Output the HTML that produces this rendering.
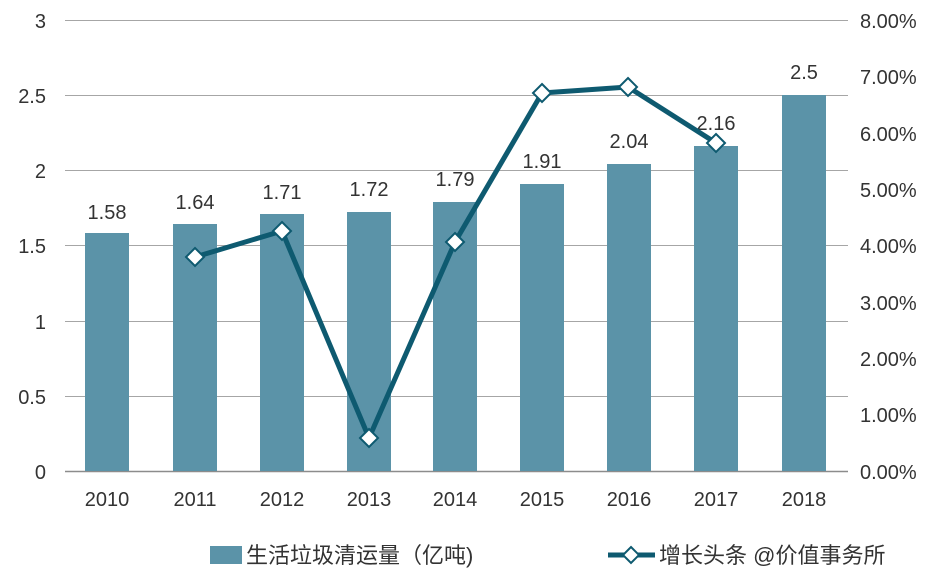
<!DOCTYPE html>
<html><head><meta charset="utf-8"><style>
body{margin:0;background:#fff;}
svg{display:block;font-family:"Liberation Sans","Noto Sans CJK SC",sans-serif;}
</style></head><body>
<svg width="942" height="582" viewBox="0 0 942 582">
<g stroke="#a6a6a6" stroke-width="1">
<line x1="65" y1="20.5" x2="848" y2="20.5"/>
<line x1="65" y1="95.5" x2="848" y2="95.5"/>
<line x1="65" y1="170.5" x2="848" y2="170.5"/>
<line x1="65" y1="245.5" x2="848" y2="245.5"/>
<line x1="65" y1="321.5" x2="848" y2="321.5"/>
<line x1="65" y1="396.5" x2="848" y2="396.5"/>
</g>
<line x1="65" y1="471.5" x2="848" y2="471.5" stroke="#8c8c8c" stroke-width="1.5"/>
<g fill="#5b93a8">
<rect x="85" y="233" width="44" height="238"/>
<rect x="173" y="224" width="44" height="247"/>
<rect x="260" y="214" width="44" height="257"/>
<rect x="347" y="212" width="44" height="259"/>
<rect x="433" y="202" width="44" height="269"/>
<rect x="520" y="184" width="44" height="287"/>
<rect x="607" y="164" width="44" height="307"/>
<rect x="694" y="146" width="44" height="325"/>
<rect x="782" y="95" width="44" height="376"/>
</g>
<g font-size="20" fill="#333" text-anchor="middle">
<text x="107" y="219">1.58</text>
<text x="195" y="209">1.64</text>
<text x="282" y="199">1.71</text>
<text x="369" y="196">1.72</text>
<text x="455" y="186">1.79</text>
<text x="542" y="168">1.91</text>
<text x="629" y="148">2.04</text>
<text x="716" y="130">2.16</text>
<text x="804" y="79">2.5</text>
</g>
<polyline points="195,257 282,231 369,438 455,242 542,93 628,87 716,143" fill="none" stroke="#0e5a70" stroke-width="5" stroke-linejoin="round"/>
<g fill="#fff" stroke="#0e5a70" stroke-width="2">
<path d="M195,248 l9,9 -9,9 -9,-9z"/>
<path d="M282,222 l9,9 -9,9 -9,-9z"/>
<path d="M369,429 l9,9 -9,9 -9,-9z"/>
<path d="M455,233 l9,9 -9,9 -9,-9z"/>
<path d="M542,84 l9,9 -9,9 -9,-9z"/>
<path d="M628,78 l9,9 -9,9 -9,-9z"/>
<path d="M716,134 l9,9 -9,9 -9,-9z"/>
</g>
<g font-size="20" fill="#333" text-anchor="end">
<text x="46" y="28">3</text>
<text x="46" y="103">2.5</text>
<text x="46" y="178">2</text>
<text x="46" y="253">1.5</text>
<text x="46" y="329">1</text>
<text x="46" y="404">0.5</text>
<text x="46" y="479">0</text>
</g>
<g font-size="20" fill="#333" text-anchor="start">
<text x="860" y="28">8.00%</text>
<text x="860" y="84">7.00%</text>
<text x="860" y="141">6.00%</text>
<text x="860" y="197">5.00%</text>
<text x="860" y="253">4.00%</text>
<text x="860" y="310">3.00%</text>
<text x="860" y="366">2.00%</text>
<text x="860" y="422">1.00%</text>
<text x="860" y="479">0.00%</text>
</g>
<g font-size="20" fill="#333" text-anchor="middle">
<text x="107" y="506">2010</text>
<text x="195" y="506">2011</text>
<text x="282" y="506">2012</text>
<text x="369" y="506">2013</text>
<text x="455" y="506">2014</text>
<text x="542" y="506">2015</text>
<text x="629" y="506">2016</text>
<text x="716" y="506">2017</text>
<text x="804" y="506">2018</text>
</g>
<rect x="210" y="546" width="32" height="18" fill="#5b93a8"/>
<text x="246" y="563" font-size="22" fill="#333">生活垃圾清运量（亿吨)</text>
<line x1="608" y1="555" x2="655" y2="555" stroke="#0e5a70" stroke-width="5"/>
<path d="M631,547 l8,8 -8,8 -8,-8z" fill="#fff" stroke="#0e5a70" stroke-width="2"/>
<text x="659" y="563" font-size="22" fill="#333">增长头条 @价值事务所</text>
</svg>
</body></html>
